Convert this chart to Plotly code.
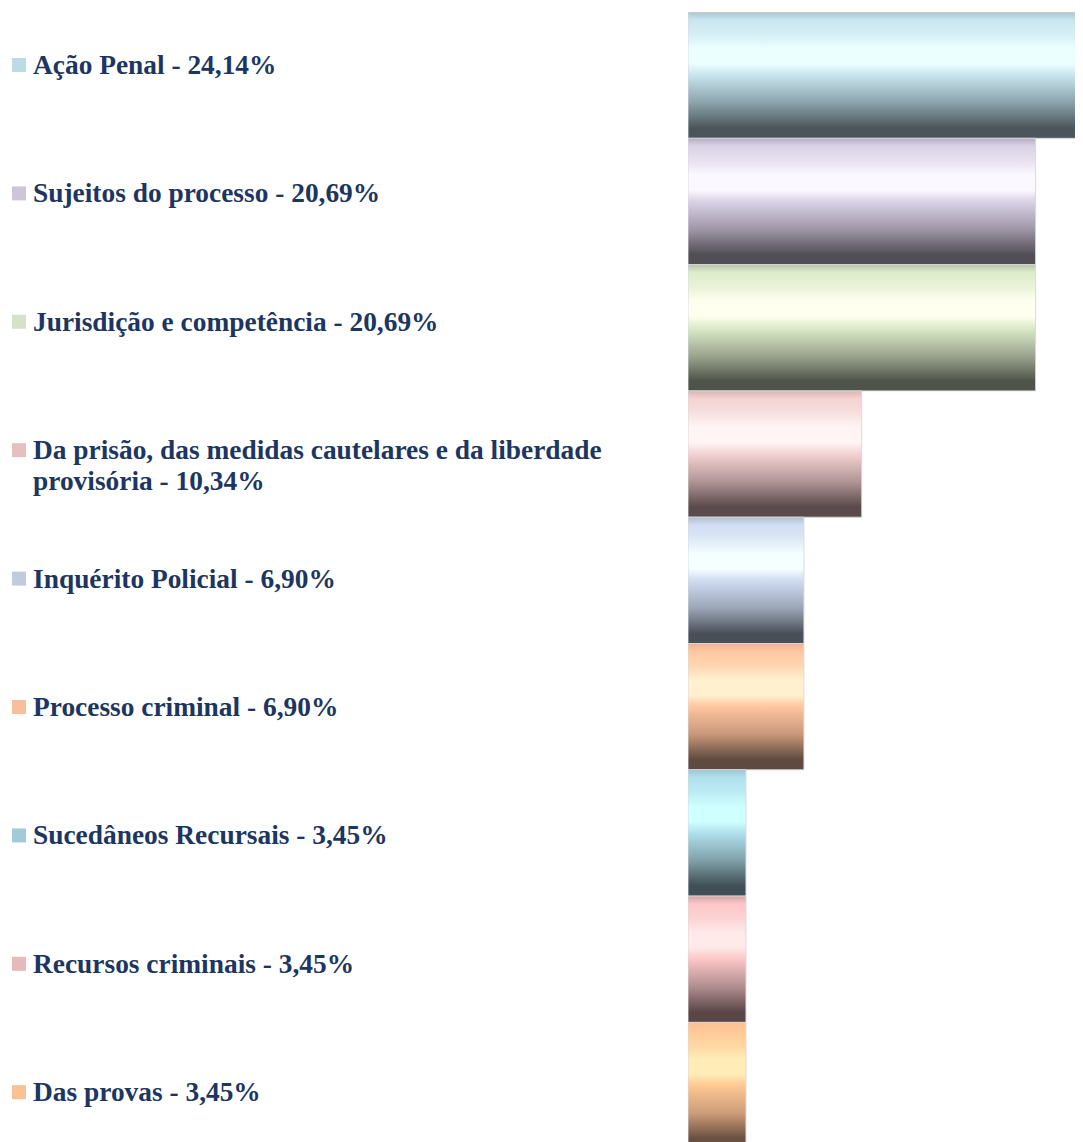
import plotly.graph_objects as go

# ---------------- data ----------------
categories = [
    "Ação Penal",
    "Sujeitos do processo",
    "Jurisdição e competência",
    "Da prisão, das medidas cautelares e da liberdade<br>provisória",
    "Inquérito Policial",
    "Processo criminal",
    "Sucedâneos Recursais",
    "Recursos criminais",
    "Das provas",
]
values = [24.14, 20.69, 20.69, 10.34, 6.90, 6.90, 3.45, 3.45, 3.45]

# legend square colours
swatch_colors = ["#bcdbe4", "#cdc6d9", "#d6e2c8", "#e6bfc0", "#c0cbe0",
                 "#f9be9b", "#a2cad8", "#e6b9ba", "#f9c194"]

# gradient colours per bar: (top edge, upper, highlight, mid, dark)
grad_colors = [
    ("#a9c3cc", "#c8e5ef", "#ebffff", "#8aa2aa", "#4b565c"),
    ("#b5acbf", "#dad2e6", "#fcf8ff", "#9f97a8", "#524e55"),
    ("#b9c3ad", "#dcebc8", "#fffff0", "#9ca68f", "#4f544a"),
    ("#d9b6b6", "#f3d2d2", "#fff5f5", "#b09495", "#5a4a4b"),
    ("#b0bcd3", "#d0dcf2", "#f4ffff", "#9ba6b8", "#4a5059"),
    ("#efb291", "#ffc6a0", "#fff0d0", "#c8977a", "#5e4a3e"),
    ("#9cc5d3", "#b0e0ec", "#d0ffff", "#7fa0a9", "#3f4f55"),
    ("#d4a5a6", "#fcc6c6", "#ffe9e9", "#b08c8e", "#5a4646"),
    ("#fdc08c", "#ffc894", "#ffecb6", "#cc9c78", "#6a5040"),
]

text_color = "#1d3661"
font_family = "Liberation Serif"

# ---------------- layout constants (screen pixels) ----------------
BODY = 8                       # default page margin around the figure
W, H = 1083 - BODY, 1142 - BODY
PLOT_LEFT, PLOT_TOP = 688, 12  # screen position of the plot area
ML = PLOT_LEFT - BODY
MT = PLOT_TOP - BODY
MR, MB = 0, 0
plot_w = W - ML - MR
plot_h = H - MT - MB
plot_bottom = BODY + H - MB
band_px = 126.3
px_per_unit = 16.8

n = len(categories)
y_top = n - 0.5
y_bottom = y_top - plot_h / band_px
x_max = plot_w / px_per_unit


def px_to_paper_x(px):
    return (px - PLOT_LEFT) / plot_w


def px_to_paper_y(py):
    return (plot_bottom - py) / plot_h


def mix(c1, c2, f):
    a = [int(c1[k:k + 2], 16) for k in (1, 3, 5)]
    b = [int(c2[k:k + 2], 16) for k in (1, 3, 5)]
    return "#" + "".join(f"{round(x + (y - x) * f):02x}" for x, y in zip(a, b))


fig = go.Figure()

for i, (cat, v) in enumerate(zip(categories, values)):
    yc = n - 1 - i
    y0, y1 = yc - 0.5, yc + 0.5
    edge, upper, hi, mid, dark = grad_colors[i]
    # stops from top (t=0) to bottom (t=1)
    stops_top = [(0.0, edge), (0.06, upper), (0.18, mix(upper, hi, 0.4)),
                 (0.29, hi), (0.41, hi), (0.50, upper), (0.72, mid),
                 (0.92, dark), (1.0, dark)]
    cs = sorted([(round(1 - t, 4), c) for t, c in stops_top])
    fig.add_trace(go.Scatter(
        x=[0, v, v, 0, 0],
        y=[y0, y0, y1, y1, y0],
        mode="lines",
        fill="toself",
        fillgradient=dict(type="vertical", colorscale=cs, start=y0, stop=y1),
        line=dict(width=1, color="rgba(215,215,220,0.9)"),
        hoverinfo="skip",
        showlegend=False,
    ))

# legend built from data
first_line_px = 65
legend_step = 128.4
line_h = 31
font_size = 27.4
shapes = []
annotations = []
for i, (cat, v) in enumerate(zip(categories, values)):
    label = f"{cat} - {v:.2f}".replace(".", ",") + "%"
    cy = first_line_px + i * legend_step
    shapes.append(dict(
        type="rect", xref="paper", yref="paper",
        x0=px_to_paper_x(12), x1=px_to_paper_x(26),
        y0=px_to_paper_y(cy + 7), y1=px_to_paper_y(cy - 7),
        fillcolor=swatch_colors[i], line=dict(width=0),
    ))
    for j, line in enumerate(label.split("<br>")):
        annotations.append(dict(
            xref="paper", yref="paper",
            x=px_to_paper_x(31), y=px_to_paper_y(cy + j * line_h),
            xanchor="left", yanchor="middle", align="left",
            text=f"<b>{line}</b>", showarrow=False,
            font=dict(family=font_family, size=font_size, color=text_color),
        ))

fig.update_layout(
    width=W, height=H,
    margin=dict(l=ML, r=MR, t=MT, b=MB, pad=0),
    paper_bgcolor="white", plot_bgcolor="white",
    xaxis=dict(range=[0, x_max], visible=False, fixedrange=True),
    yaxis=dict(range=[y_bottom, y_top], visible=False, fixedrange=True),
    shapes=shapes,
    annotations=annotations,
    showlegend=False,
)

fig.write_html("out.html")
